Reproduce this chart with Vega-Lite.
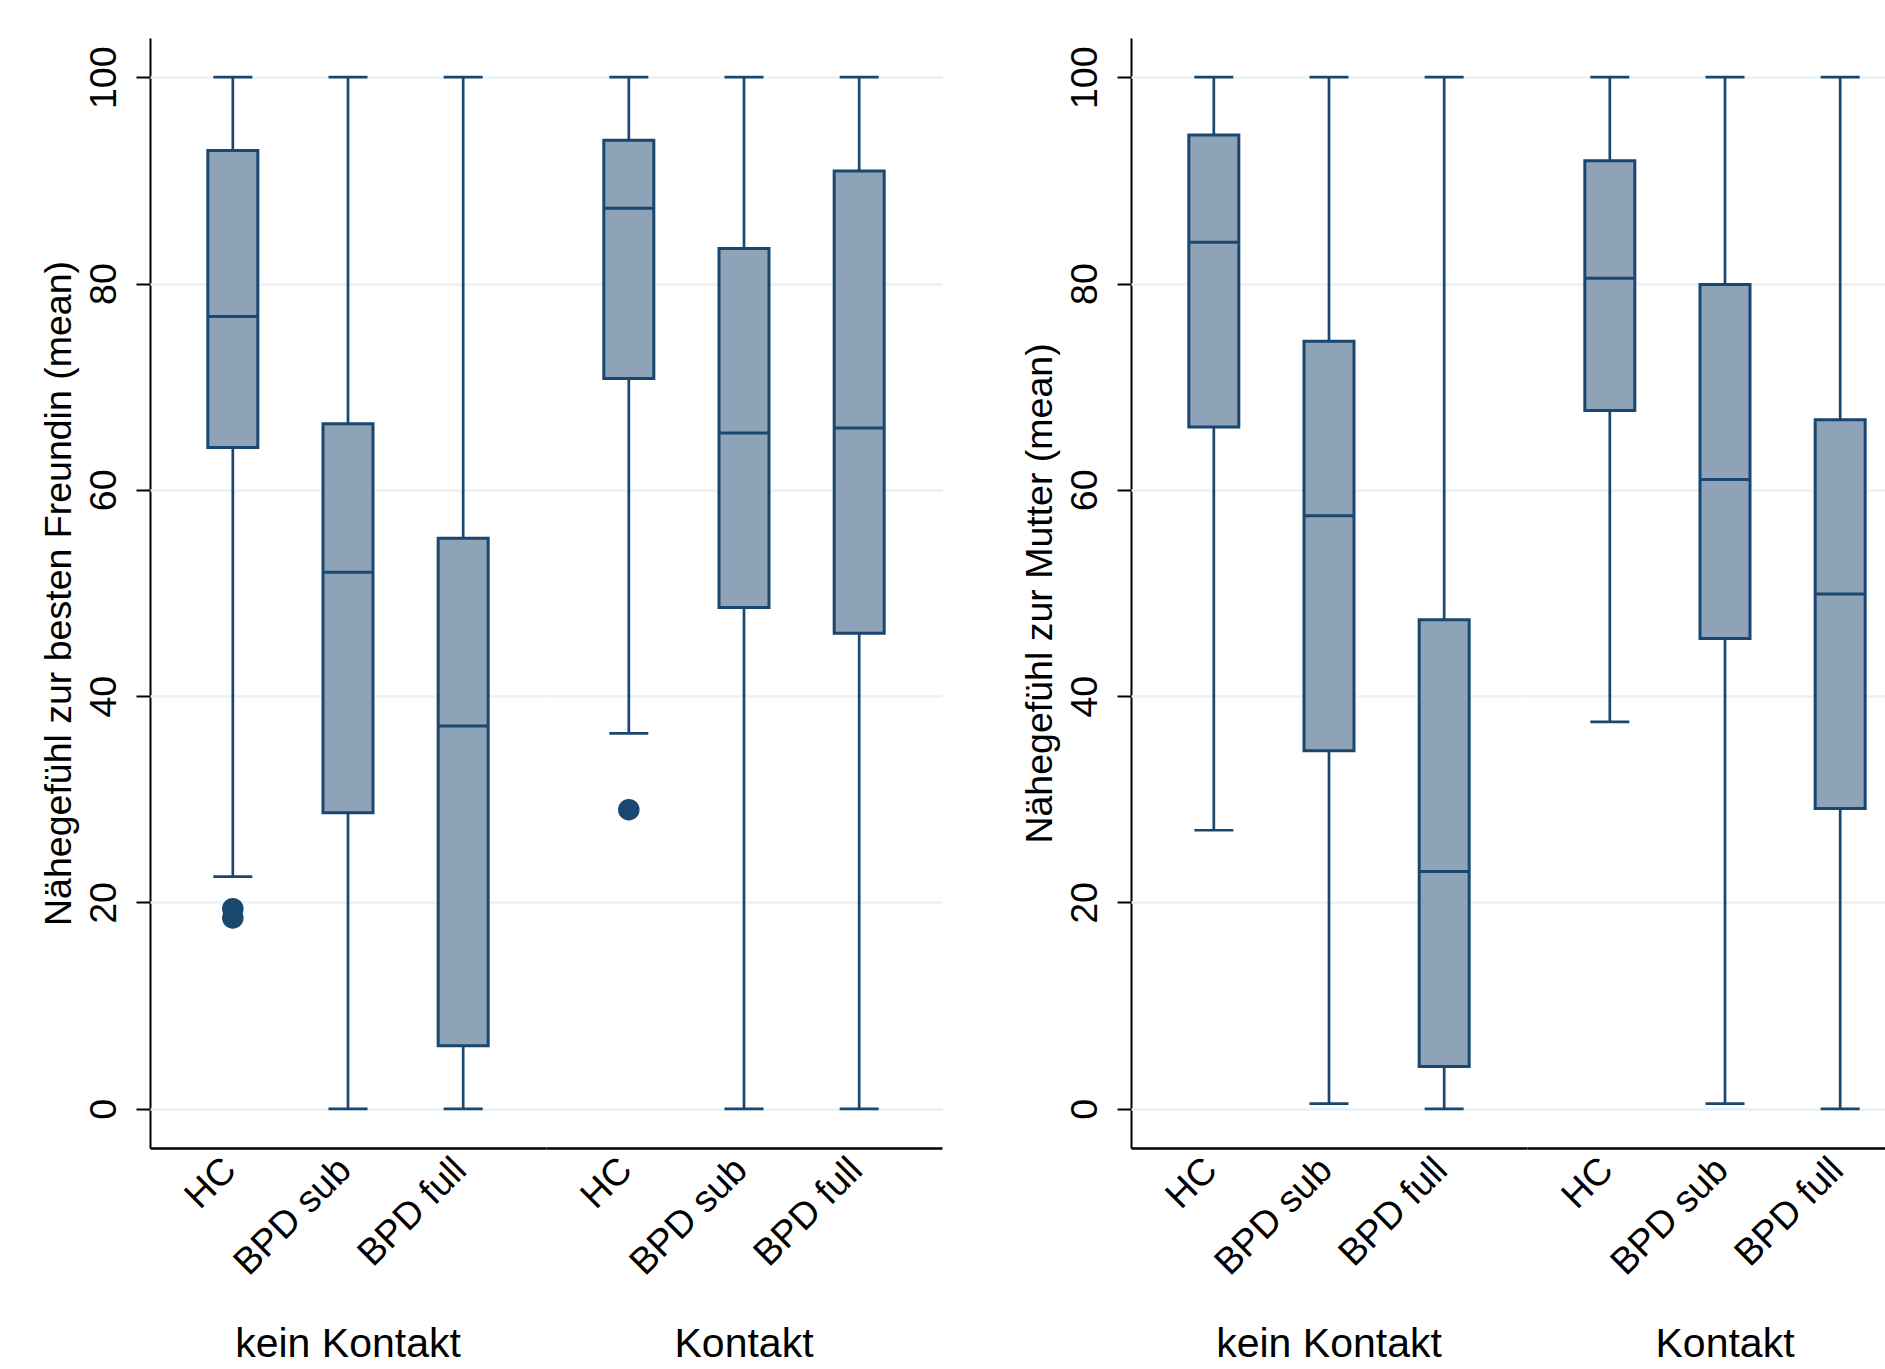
{
  "$schema": "https://vega.github.io/schema/vega-lite/v6.json",
  "padding": {"left": 40, "top": 38, "right": 0, "bottom": 0},
  "background": "white",
  "config": {
    "view": {"stroke": null},
    "font": "Liberation Sans",
    "axisY": {
      "grid": true, "gridColor": "#eaf2f3", "gridWidth": 2.5,
      "domainColor": "black", "domainWidth": 2,
      "tickColor": "black", "tickWidth": 2, "tickSize": 14,
      "labelAngle": -90, "labelAlign": "center", "labelBaseline": "alphabetic",
      "labelPadding": 21, "labelFontSize": 37.5, "labelColor": "black",
      "titleFontSize": 37.5, "titleFontWeight": "normal", "titleColor": "black", "titlePadding": 7
    },
    "axisX": {
      "grid": false, "ticks": false, "tickSize": 0,
      "domainColor": "black", "domainWidth": 2.5,
      "labelAngle": -45, "labelAlign": "right", "labelBaseline": "middle",
      "labelPadding": 16, "labelOffset": -3, "labelFontSize": 37.5, "labelColor": "black",
      "title": null
    },
    "header": {"labelOrient": "bottom", "labelFontSize": 41, "labelColor": "black", "labelPadding": 43, "labelFont": "Liberation Sans"}
  },
  "datasets": {
    "freundin": [
      {"kontakt": "kein Kontakt", "gruppe": "HC", "lo": 22.5, "q1": 64.1, "med": 76.8, "q3": 92.9, "hi": 100},
      {"kontakt": "kein Kontakt", "gruppe": "BPD sub", "lo": 0, "q1": 28.7, "med": 52.0, "q3": 66.4, "hi": 100},
      {"kontakt": "kein Kontakt", "gruppe": "BPD full", "lo": 0, "q1": 6.1, "med": 37.1, "q3": 55.3, "hi": 100},
      {"kontakt": "Kontakt", "gruppe": "HC", "lo": 36.4, "q1": 70.8, "med": 87.3, "q3": 93.9, "hi": 100},
      {"kontakt": "Kontakt", "gruppe": "BPD sub", "lo": 0, "q1": 48.6, "med": 65.5, "q3": 83.4, "hi": 100},
      {"kontakt": "Kontakt", "gruppe": "BPD full", "lo": 0, "q1": 46.1, "med": 66.0, "q3": 90.9, "hi": 100},
      {"kontakt": "kein Kontakt", "gruppe": "HC", "ausreisser": 19.4},
      {"kontakt": "kein Kontakt", "gruppe": "HC", "ausreisser": 18.5},
      {"kontakt": "Kontakt", "gruppe": "HC", "ausreisser": 29.0}
    ],
    "mutter": [
      {"kontakt": "kein Kontakt", "gruppe": "HC", "lo": 27.0, "q1": 66.1, "med": 84.0, "q3": 94.4, "hi": 100},
      {"kontakt": "kein Kontakt", "gruppe": "BPD sub", "lo": 0.5, "q1": 34.7, "med": 57.5, "q3": 74.4, "hi": 100},
      {"kontakt": "kein Kontakt", "gruppe": "BPD full", "lo": 0, "q1": 4.1, "med": 23.0, "q3": 47.4, "hi": 100},
      {"kontakt": "Kontakt", "gruppe": "HC", "lo": 37.5, "q1": 67.7, "med": 80.5, "q3": 91.9, "hi": 100},
      {"kontakt": "Kontakt", "gruppe": "BPD sub", "lo": 0.5, "q1": 45.6, "med": 61.0, "q3": 79.9, "hi": 100},
      {"kontakt": "Kontakt", "gruppe": "BPD full", "lo": 0, "q1": 29.1, "med": 49.9, "q3": 66.8, "hi": 100}
    ]
  },
  "spacing": 79,
  "hconcat": [
    {
      "data": {"name": "freundin"},
      "facet": {"column": {"field": "kontakt", "type": "nominal", "sort": ["kein Kontakt", "Kontakt"], "title": null}},
      "spacing": 0,
      "spec": {
        "width": 396, "height": 1110,
        "encoding": {
          "x": {"field": "gruppe", "type": "nominal", "sort": ["HC", "BPD sub", "BPD full"], "scale": {"type": "point", "padding": 0.719}}
        },
        "layer": [
          {"transform": [{"filter": "isValid(datum.q1)"}],
           "mark": {"type": "rule", "color": "#1a476f", "strokeWidth": 2.7},
           "encoding": {"y": {"field": "lo", "type": "quantitative", "title": "Nähegefühl zur besten Freundin (mean)", "scale": {"domain": [-3.8, 103.8], "nice": false, "zero": false}, "axis": {"values": [0, 20, 40, 60, 80, 100]}}, "y2": {"field": "q1"}}},
          {"transform": [{"filter": "isValid(datum.q1)"}],
           "mark": {"type": "rule", "color": "#1a476f", "strokeWidth": 2.7},
           "encoding": {"y": {"field": "q3", "type": "quantitative", "title": "Nähegefühl zur besten Freundin (mean)", "scale": {"domain": [-3.8, 103.8], "nice": false, "zero": false}, "axis": {"values": [0, 20, 40, 60, 80, 100]}}, "y2": {"field": "hi"}}},
          {"transform": [{"filter": "isValid(datum.q1)"}],
           "mark": {"type": "tick", "orient": "horizontal", "size": 39, "thickness": 2.7, "color": "#1a476f", "opacity": 1},
           "encoding": {"y": {"field": "lo", "type": "quantitative", "title": "Nähegefühl zur besten Freundin (mean)", "scale": {"domain": [-3.8, 103.8], "nice": false, "zero": false}, "axis": {"values": [0, 20, 40, 60, 80, 100]}}}},
          {"transform": [{"filter": "isValid(datum.q1)"}],
           "mark": {"type": "tick", "orient": "horizontal", "size": 39, "thickness": 2.7, "color": "#1a476f", "opacity": 1},
           "encoding": {"y": {"field": "hi", "type": "quantitative", "title": "Nähegefühl zur besten Freundin (mean)", "scale": {"domain": [-3.8, 103.8], "nice": false, "zero": false}, "axis": {"values": [0, 20, 40, 60, 80, 100]}}}},
          {"transform": [{"filter": "isValid(datum.q1)"}],
           "mark": {"type": "bar", "width": 50, "fill": "#8ea3b7", "stroke": "#1a476f", "strokeWidth": 3, "opacity": 1},
           "encoding": {"y": {"field": "q1", "type": "quantitative", "title": "Nähegefühl zur besten Freundin (mean)", "scale": {"domain": [-3.8, 103.8], "nice": false, "zero": false}, "axis": {"values": [0, 20, 40, 60, 80, 100]}}, "y2": {"field": "q3"}}},
          {"transform": [{"filter": "isValid(datum.q1)"}],
           "mark": {"type": "tick", "orient": "horizontal", "size": 50, "thickness": 3, "color": "#1a476f", "opacity": 1},
           "encoding": {"y": {"field": "med", "type": "quantitative", "title": "Nähegefühl zur besten Freundin (mean)", "scale": {"domain": [-3.8, 103.8], "nice": false, "zero": false}, "axis": {"values": [0, 20, 40, 60, 80, 100]}}}},
          {"transform": [{"filter": "isValid(datum.ausreisser)"}],
           "mark": {"type": "circle", "size": 462, "color": "#1a476f", "opacity": 1},
           "encoding": {"y": {"field": "ausreisser", "type": "quantitative", "title": "Nähegefühl zur besten Freundin (mean)", "scale": {"domain": [-3.8, 103.8], "nice": false, "zero": false}, "axis": {"values": [0, 20, 40, 60, 80, 100]}}}}
        ]
      }
    },
    {
      "data": {"name": "mutter"},
      "facet": {"column": {"field": "kontakt", "type": "nominal", "sort": ["kein Kontakt", "Kontakt"], "title": null}},
      "spacing": 0,
      "spec": {
        "width": 396, "height": 1110,
        "encoding": {
          "x": {"field": "gruppe", "type": "nominal", "sort": ["HC", "BPD sub", "BPD full"], "scale": {"type": "point", "padding": 0.719}}
        },
        "layer": [
          {"mark": {"type": "rule", "color": "#1a476f", "strokeWidth": 2.7},
           "encoding": {"y": {"field": "lo", "type": "quantitative", "title": "Nähegefühl zur Mutter (mean)", "scale": {"domain": [-3.8, 103.8], "nice": false, "zero": false}, "axis": {"values": [0, 20, 40, 60, 80, 100]}}, "y2": {"field": "q1"}}},
          {"mark": {"type": "rule", "color": "#1a476f", "strokeWidth": 2.7},
           "encoding": {"y": {"field": "q3", "type": "quantitative", "title": "Nähegefühl zur Mutter (mean)", "scale": {"domain": [-3.8, 103.8], "nice": false, "zero": false}, "axis": {"values": [0, 20, 40, 60, 80, 100]}}, "y2": {"field": "hi"}}},
          {"mark": {"type": "tick", "orient": "horizontal", "size": 39, "thickness": 2.7, "color": "#1a476f", "opacity": 1},
           "encoding": {"y": {"field": "lo", "type": "quantitative", "title": "Nähegefühl zur Mutter (mean)", "scale": {"domain": [-3.8, 103.8], "nice": false, "zero": false}, "axis": {"values": [0, 20, 40, 60, 80, 100]}}}},
          {"mark": {"type": "tick", "orient": "horizontal", "size": 39, "thickness": 2.7, "color": "#1a476f", "opacity": 1},
           "encoding": {"y": {"field": "hi", "type": "quantitative", "title": "Nähegefühl zur Mutter (mean)", "scale": {"domain": [-3.8, 103.8], "nice": false, "zero": false}, "axis": {"values": [0, 20, 40, 60, 80, 100]}}}},
          {"mark": {"type": "bar", "width": 50, "fill": "#8ea3b7", "stroke": "#1a476f", "strokeWidth": 3, "opacity": 1},
           "encoding": {"y": {"field": "q1", "type": "quantitative", "title": "Nähegefühl zur Mutter (mean)", "scale": {"domain": [-3.8, 103.8], "nice": false, "zero": false}, "axis": {"values": [0, 20, 40, 60, 80, 100]}}, "y2": {"field": "q3"}}},
          {"mark": {"type": "tick", "orient": "horizontal", "size": 50, "thickness": 3, "color": "#1a476f", "opacity": 1},
           "encoding": {"y": {"field": "med", "type": "quantitative", "title": "Nähegefühl zur Mutter (mean)", "scale": {"domain": [-3.8, 103.8], "nice": false, "zero": false}, "axis": {"values": [0, 20, 40, 60, 80, 100]}}}}
        ]
      }
    }
  ]
}
